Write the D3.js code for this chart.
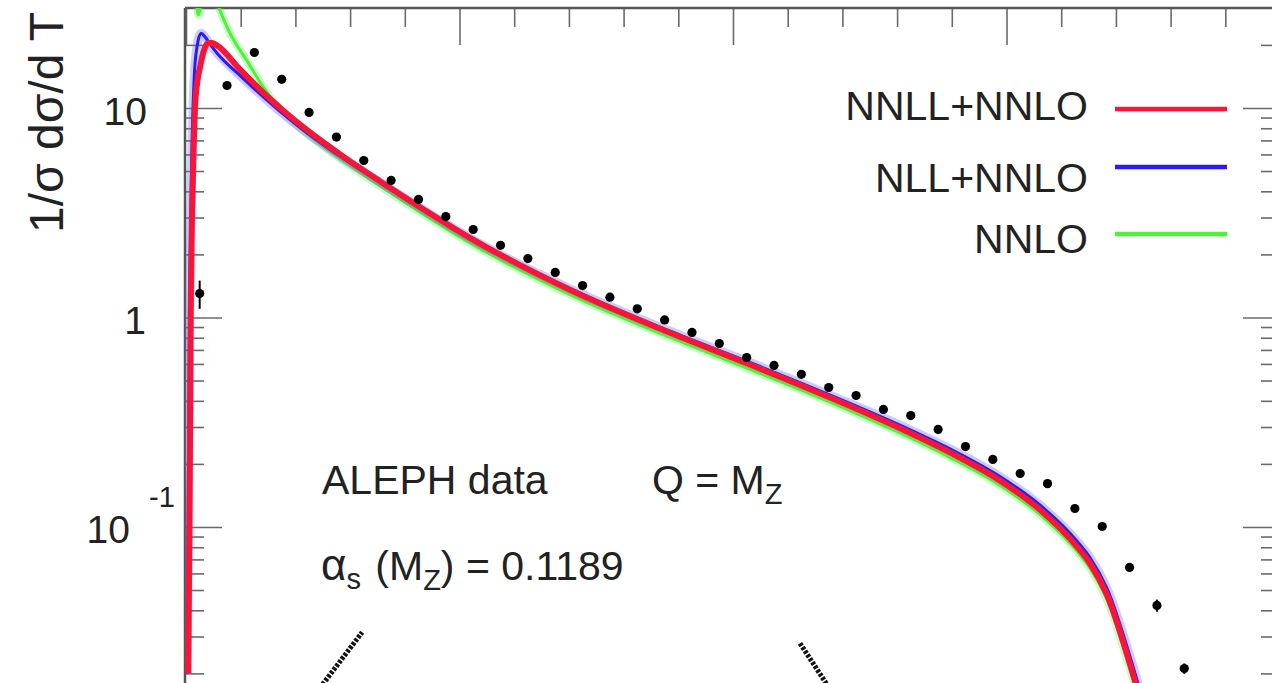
<!DOCTYPE html>
<html>
<head>
<meta charset="utf-8">
<script src="https://cdn.jsdelivr.net/npm/d3@7"></script>
<style>
body{margin:0;background:#fff;}
svg{display:block;font-family:"Liberation Sans",Arial,Helvetica,sans-serif;}
</style>
</head>
<body>
<svg id="chart" width="1272" height="683"></svg>
<script>
// ALEPH data, thrust (tau = 1-T) bins
var dataTau=[0.005,0.015,0.025,0.035,0.045,0.055,0.065,0.075,0.085,0.095,0.105,0.115,0.125,0.135,0.145,0.155,0.165,0.175,0.185,0.195,0.205,0.215,0.225,0.235,0.245,0.255,0.265,0.275,0.285,0.295,0.305,0.315,0.325,0.335,0.345,0.355,0.365];
var dataVal=[1.30,12.8,18.4,13.7,9.52,7.26,5.61,4.51,3.66,3.03,2.63,2.21,1.91,1.64,1.42,1.25,1.10,0.973,0.848,0.751,0.644,0.590,0.535,0.463,0.424,0.364,0.340,0.292,0.242,0.210,0.180,0.161,0.1225,0.1005,0.0641,0.0422,0.0211];
var dataErr=[0.20,0,0,0,0,0,0,0,0,0,0,0,0,0,0,0,0,0,0,0,0,0,0,0,0,0,0,0,0,0,0,0,0,0,0,0.0028,0.0012];

// NNLL+NNLO
var redTau=[0.0008,0.0012,0.0015,0.0017,0.002,0.0025,0.0033,0.0042,0.0051,0.0066,0.008,0.0095,0.0113,0.0197,0.0296,0.0369,0.0442,0.057,0.0709,0.0856,0.1038,0.1404,0.177,0.2062,0.2428,0.2611,0.2793,0.2976,0.3123,0.3258,0.3305,0.3367,0.3463,0.3506];
var redVal=[0.02,0.08,0.3,1.0,2.2,4.5,10,13.5,15.6,18.9,20.4,20.4,19.9,15.3,11.4,9.38,7.85,5.92,4.47,3.36,2.40,1.355,0.845,0.596,0.378,0.296,0.227,0.1667,0.1208,0.0806,0.0671,0.0476,0.0197,0.0126];
// NLL+NNLO
var blueTau=[0.0005,0.001,0.0013,0.002,0.003,0.004,0.0055,0.007,0.009,0.0113,0.0197,0.0296,0.0369,0.0442,0.057,0.0709,0.0856,0.1038,0.1404,0.177,0.2062,0.2428,0.2611,0.2793,0.2976,0.3123,0.3258,0.3305,0.3367,0.3463,0.3506];
var blueVal=[0.02,0.3,1.0,5,14,19.5,22.7,21.8,20,18.3,14.3,10.9,9.05,7.62,5.80,4.42,3.34,2.40,1.37,0.860,0.610,0.389,0.306,0.236,0.174,0.127,0.0855,0.0715,0.0510,0.0215,0.0138];
// NNLO
var greenTau=[0.003,0.0045,0.0065,0.009,0.0121,0.0161,0.0223,0.0282,0.034,0.0442,0.057,0.0709,0.0856,0.1038,0.1404,0.177,0.2062,0.2428,0.2611,0.2793,0.2976,0.3123,0.3258,0.3305,0.3367,0.3463,0.3506];
var greenVal=[50,27.8,40,40,30,22.7,16.8,12.6,10.0,7.55,5.65,4.25,3.18,2.27,1.285,0.803,0.566,0.359,0.281,0.215,0.158,0.1145,0.0765,0.0637,0.0452,0.0187,0.0120];

var legendNames=["NNLL+NNLO","NLL+NNLO","NNLO"];
var legendColors=["#f5163a","#2a1cf0","#4cf23c"];

// the two dotted strokes cut by the lower edge (tau, value)
var strokeA=[[0.044,0.014],[0.0644,0.0314]];
var strokeB=[[0.2245,0.0278],[0.2395,0.014]];

var X0=186,X1=1280,YTOP=8,DECADE=209.5;
var FONT=41;

var svg=d3.select("#chart");
var x=d3.scaleLinear().domain([0,0.4]).range([X0,X1]);
var y=d3.scaleLog().domain([0.01,30]).range([YTOP+DECADE*Math.log10(3000),YTOP]);

svg.append("defs").append("clipPath").attr("id","plotclip")
	.append("rect").attr("x",X0-1).attr("y",YTOP).attr("width",X1-X0+1).attr("height",1000);

// ticks
var majorX=[0,0.1,0.2,0.3,0.4];
var minorX=x.ticks(20).filter(function(t){return Math.abs(t*10-Math.round(t*10))>1e-6;});
var majorY=[0.01,0.1,1,10];
var minorY=[];
majorY.forEach(function(d){for(var k=2;k<=9;k++){if(d*k<30)minorY.push(d*k);}});

function tickAxis(axis,vals,len,tr){
	var g=svg.append("g").attr("transform",tr)
		.call(axis.tickValues(vals).tickSize(len).tickSizeOuter(0).tickFormat(""));
	g.select(".domain").remove();
	g.selectAll(".tick line").attr("stroke","#6a6a6a").attr("stroke-width",1.6);
}
tickAxis(d3.axisBottom(x),majorX,37,"translate(0,"+YTOP+")");
tickAxis(d3.axisBottom(x),minorX,19,"translate(0,"+YTOP+")");
tickAxis(d3.axisRight(y),majorY,37,"translate("+(X0-1)+",0)");
tickAxis(d3.axisRight(y),minorY,19,"translate("+(X0-1)+",0)");
tickAxis(d3.axisLeft(y),majorY,37,"translate("+X1+",0)");
tickAxis(d3.axisLeft(y),minorY,19,"translate("+X1+",0)");

// frame
svg.append("line").attr("x1",X0-1).attr("x2",X1).attr("y1",YTOP).attr("y2",YTOP)
	.attr("stroke","#555").attr("stroke-width",2.5);
svg.append("line").attr("x1",X0-1).attr("x2",X0-1).attr("y1",YTOP).attr("y2",700)
	.attr("stroke","#555").attr("stroke-width",2.5);

// y tick labels
var ylab=svg.append("g").attr("fill","#222").attr("font-size",39);
ylab.append("text").attr("x",147).attr("y",y(10)+17).attr("text-anchor","end").text("10");
ylab.append("text").attr("x",146).attr("y",y(1)+17).attr("text-anchor","end").text("1");
ylab.append("text").attr("x",130).attr("y",y(0.1)+16).attr("text-anchor","end").text("10");
ylab.append("text").attr("x",149).attr("y",y(0.1)-20).attr("font-size",29).text("-1");

// y axis title
svg.append("text").attr("transform","translate(63,233) rotate(-90)")
	.attr("font-size",48).attr("fill","#222").text("1/\u03c3 d\u03c3/d T");

// curves
var line=d3.line().x(function(d){return x(d[0]);}).y(function(d){return y(d[1]);}).curve(d3.curveMonotoneX);
var plot=svg.append("g").attr("clip-path","url(#plotclip)");
function pairs(t,v){return t.map(function(d,i){return [d,v[i]];});}

plot.append("path").attr("d",line(pairs(greenTau,greenVal))).attr("fill","none")
	.attr("stroke",legendColors[2]).attr("stroke-width",8).attr("stroke-opacity",0.3);
plot.append("path").attr("d",line(pairs(greenTau,greenVal))).attr("fill","none")
	.attr("stroke",legendColors[2]).attr("stroke-width",3);
plot.append("path").attr("d",line(pairs(blueTau,blueVal))).attr("fill","none")
	.attr("stroke","#6f66ff").attr("stroke-width",9).attr("stroke-opacity",0.35);
plot.append("path").attr("d",line(pairs(blueTau,blueVal))).attr("fill","none")
	.attr("stroke",legendColors[1]).attr("stroke-width",3);
plot.append("path").attr("d",line(pairs(redTau,redVal))).attr("fill","none")
	.attr("stroke",legendColors[0]).attr("stroke-width",6).attr("stroke-linejoin","round");

// dotted strokes at the bottom
[strokeA,strokeB].forEach(function(s){
	plot.append("path").attr("d",d3.line().x(function(d){return x(d[0]);}).y(function(d){return y(d[1]);})(s))
		.attr("stroke","#111").attr("stroke-width",5).attr("stroke-dasharray","3,1.5").attr("fill","none");
});

// data points
var pts=plot.append("g");
dataTau.forEach(function(t,i){
	if(dataErr[i]>0){
		pts.append("line").attr("x1",x(t)).attr("x2",x(t))
			.attr("y1",y(dataVal[i]+dataErr[i])).attr("y2",y(dataVal[i]-dataErr[i]))
			.attr("stroke","#000").attr("stroke-width",2);
	}
	pts.append("circle").attr("cx",x(t)).attr("cy",y(dataVal[i])).attr("r",4.6).attr("fill","#000");
});

// legend
var legTextY=[120,192,253],legLineY=[109,167,234];
var leg=svg.append("g").attr("font-size",FONT).attr("fill","#222");
legendNames.forEach(function(n,i){
	leg.append("text").attr("x",1088).attr("y",legTextY[i]).attr("text-anchor","end").text(n);
	leg.append("line").attr("x1",1115).attr("x2",1227).attr("y1",legLineY[i]).attr("y2",legLineY[i])
		.attr("stroke",legendColors[i]).attr("stroke-width",4.5);
});

// annotations
var ann=svg.append("g").attr("font-size",FONT).attr("fill","#222");
ann.append("text").attr("x",322).attr("y",494).text("ALEPH data");
var q=ann.append("text").attr("x",652).attr("y",494);
q.append("tspan").text("Q = M");
q.append("tspan").attr("font-size",29).attr("dy",10).text("Z");
var a=ann.append("text").attr("x",321).attr("y",580);
a.append("tspan").attr("font-size",44).text("\u03b1");
a.append("tspan").attr("font-size",29).attr("dy",9).text("s");
a.append("tspan").attr("dy",-9).attr("dx",3).text(" (M");
a.append("tspan").attr("font-size",29).attr("dy",10).text("Z");
a.append("tspan").attr("dy",-10).text(") = 0.1189");
</script>
</body>
</html>
